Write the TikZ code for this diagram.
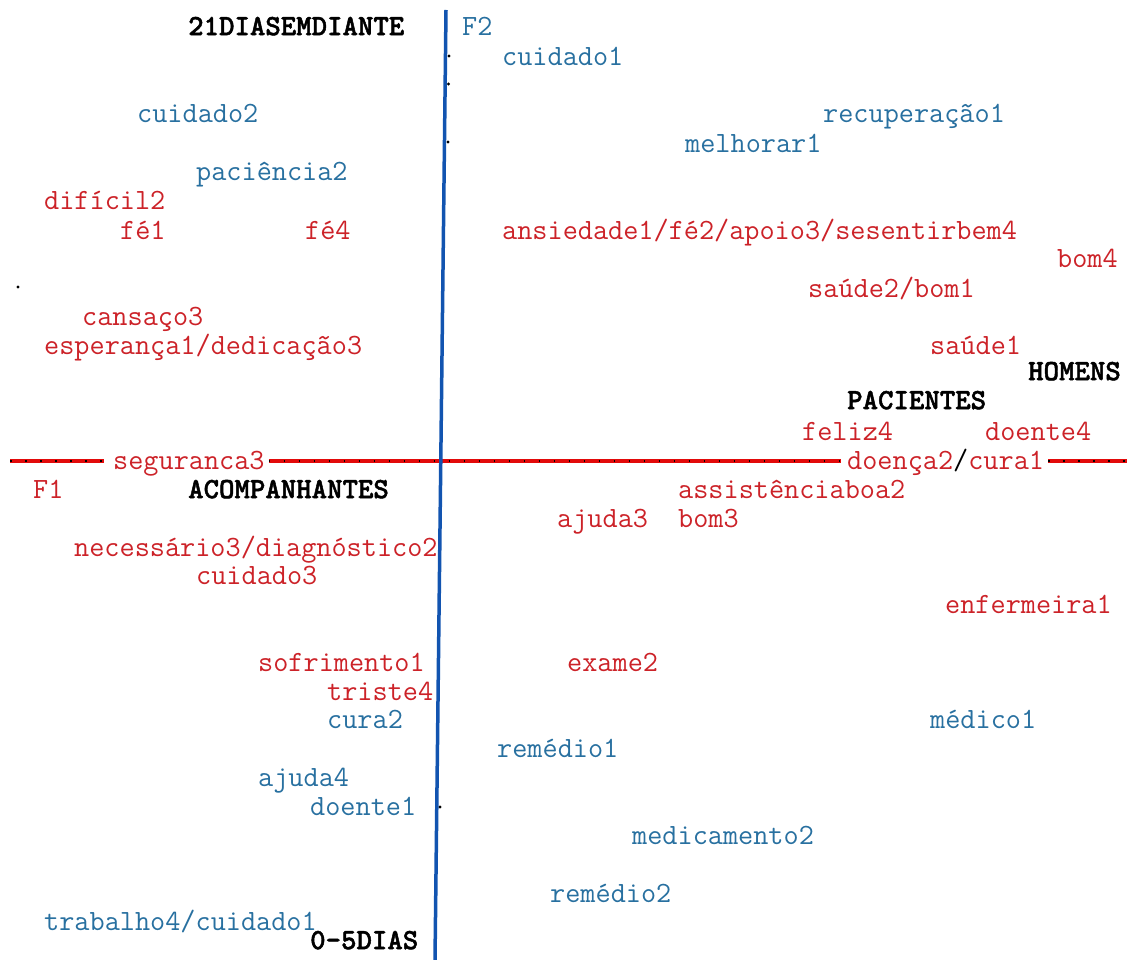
\documentclass[tikz,border=0pt]{standalone}
\usepackage{fontspec}
\newfontfamily\groupfont{lmmonolt10-bold}[Extension=.otf,FakeBold=1.6]
\usetikzlibrary{calc}

\definecolor{wordred}{RGB}{204,34,40}
\definecolor{wordblue}{RGB}{40,112,160}
\definecolor{axisblue}{RGB}{18,84,176}
\definecolor{axisred}{RGB}{226,10,10}

\begin{document}
\begin{tikzpicture}[x=1pt,y=-1pt,
    word/.style={anchor=mid west,inner sep=0pt,yshift=-5pt,font=\ttfamily\fontsize{29.4}{33}\selectfont},
    red word/.style={word,text=wordred},
    blue word/.style={word,text=wordblue},
    group/.style={word,text=black,font=\groupfont\fontsize{29.4}{33}\selectfont},
    haxis/.style={draw=axisred,line width=4pt,
      postaction={draw=black,line width=1.6pt,dash pattern=on 1.6pt off 13.4pt}}]
  \path[use as bounding box] (0,0) rectangle (1127,960);

  % axes end points
  \coordinate (hl) at (10,461);
  \coordinate (hr) at (1127,461);
  \coordinate (vtop) at (446,10);
  \coordinate (vbot) at (435,960);

  % words on the F1 axis
  \node[red word] (seg) at (113,462) {seguranca3};
  \node[word,text=black] (dc) at (847,462) {\textcolor{wordred}{doença2}/\textcolor{wordred}{cura1}};

  \draw[haxis] (hl) -- ([xshift=-9pt]hl -| seg.west);
  \draw[haxis] ([xshift=4pt]hl -| seg.east) -- ([xshift=-6pt]hl -| dc.west);
  \draw[haxis] ([xshift=4pt]hl -| dc.east) -- (hr);
  \draw[axisblue,line width=3.5pt] (vtop) -- (vbot);

  \foreach \px/\py in {449/56,448.5/84,448/142,440/807,18/287} {
    \fill (\px,\py) circle [radius=1.6pt];
  }

  % blue words
  \foreach \px/\py/\t [count=\i] in {462/28/F2, 502/58/cuidado1, 137/115/cuidado2,
      823/115/recuperação1, 685/145/melhorar1, 196/173/paciência2,
      327/721/cura2, 930/721/médico1, 497/750/remédio1, 258/779/ajuda4,
      310/808/doente1, 632/837/medicamento2, 550/895/remédio2,
      44/923/{trabalho4/cuidado1}} {
    \node[blue word] (b\i) at (\px,\py) {\t};
  }

  % red words
  \foreach \px/\py/\t [count=\i] in {44/202/difícil2, 120/232/fé1, 305/232/fé4,
      502/232/{ansiedade1/fé2/apoio3/sesentirbem4}, 1057/260/bom4,
      808/290/{saúde2/bom1}, 82/318/cansaço3, 44/347/{esperança1/dedicação3},
      930/347/saúde1, 802/433/feliz4, 985/433/doente4, 33/491/F1,
      678/491/assistênciaboa2, 557/520/ajuda3, 678/520/bom3,
      74/549/{necessário3/diagnóstico2}, 196/577/cuidado3, 945/606/enfermeira1,
      258/664/sofrimento1, 567/664/exame2, 327/693/triste4} {
    \node[red word] (r\i) at (\px,\py) {\t};
  }

  % groups
  \node[group] (late) at (188,28) {21DIASEMDIANTE};
  \node[group] (men) at (1028,373) {HOMENS};
  \node[group] (pat) at (847,402) {PACIENTES};
  \node[group] (comp) at (188,491) {ACOMPANHANTES};
  \node[group] (early) at (310,942) {0-5DIAS};

\end{tikzpicture}
\end{document}
